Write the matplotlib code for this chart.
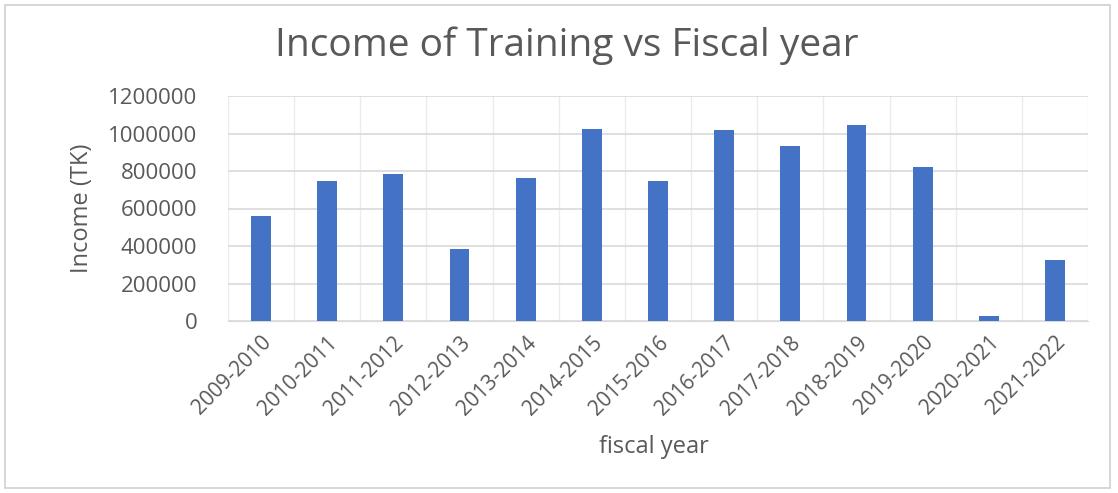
import numpy as np
import matplotlib.pyplot as plt
from matplotlib.patches import Rectangle

years = ['2009-2010', '2010-2011', '2011-2012', '2012-2013', '2013-2014',
         '2014-2015', '2015-2016', '2016-2017', '2017-2018', '2018-2019',
         '2019-2020', '2020-2021', '2021-2022']
income = [562000, 745000, 786000, 382000, 763000, 1024000, 749000,
          1019000, 932000, 1045000, 823000, 25000, 328000]

plt.rcParams['font.family'] = ['Open Sans', 'DejaVu Sans']
txt = '#595959'

fig = plt.figure(figsize=(11.18, 4.93), dpi=100)
ax = fig.add_axes([228/1118, 1-321/493, (1088-228)/1118, (321-96)/493])

x = np.arange(len(years))
ax.bar(x, income, width=0.3, color='#4472C4', zorder=3)

ax.set_xlim(-0.5, len(years) - 0.5)
ax.set_ylim(0, 1200000)
ax.set_yticks(np.arange(0, 1200001, 200000))
ax.set_yticklabels([str(v) for v in range(0, 1200001, 200000)])
ax.set_xticks(x)
ax.set_xticklabels(years, rotation=45, ha='right', rotation_mode='anchor')
ax.set_xticks(np.arange(-0.5, len(years), 0.5), minor=True)
ax.grid(True, which='minor', axis='x', color='#EBEBEB', lw=1, zorder=0)
ax.grid(True, which='major', axis='y', color='#D9D9D9', lw=1.2, zorder=0)
ax.tick_params(axis='both', which='both', length=0, colors=txt)
ax.tick_params(axis='x', pad=8, labelsize=15)
ax.tick_params(axis='y', pad=22, labelsize=16)
for s in ['top', 'right', 'left']:
    ax.spines[s].set_visible(False)
ax.spines['bottom'].set_color('#D9D9D9')

ax.set_ylabel('Income (TK)', color=txt, fontsize=17, labelpad=10)
fig.text(0.585, 1-447/493, 'fiscal year', ha='center', va='center', color=txt, fontsize=17)
fig.text(0.507, 1-46/493, 'Income of Training vs Fiscal year', ha='center', va='center',
         color=txt, fontsize=28)

fig.patches.append(Rectangle((5/1118, 5/493), 1105/1118, 483/493, transform=fig.transFigure,
                             fill=False, edgecolor='#D0D0D0', lw=1.2))

fig.savefig('out.png', dpi=100)
